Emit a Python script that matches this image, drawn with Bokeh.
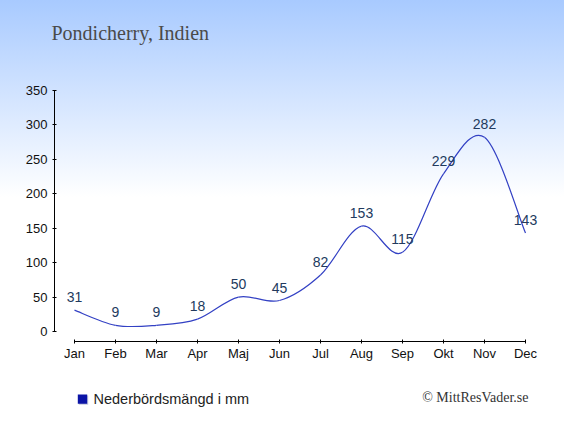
import numpy as np
from bokeh.plotting import figure
from bokeh.models import Range1d, FixedTicker, Label, BoxAnnotation
from bokeh.core.properties import value
from bokeh.embed import file_html
from bokeh.resources import INLINE

months = ["Jan", "Feb", "Mar", "Apr", "Maj", "Jun", "Jul", "Aug", "Sep", "Okt", "Nov", "Dec"]
precip = [31, 9, 9, 18, 50, 45, 82, 153, 115, 229, 282, 143]
y_ticks = [0, 50, 100, 150, 200, 250, 300, 350]
title_text = "Pondicherry, Indien"
legend_text = "Nederbördsmängd i mm"
credit_text = "© MittResVader.se"

W, H = 564, 419
# pixel geometry of the plot area (reference pixels)
PX_MONTH = 41.0
X_JAN = 74.0
Y_ZERO = 331.0
PX_UNIT = 241.0 / 350.0

x = np.arange(1, len(months) + 1, dtype=float)
y = np.array(precip, dtype=float)

x_start = 1 - X_JAN / PX_MONTH
x_end = 1 + (W - X_JAN) / PX_MONTH
y_end = Y_ZERO / PX_UNIT
y_start = -(H - Y_ZERO) / PX_UNIT

p = figure(width=W, height=H, output_backend="svg", toolbar_location=None,
           x_range=Range1d(x_start, x_end), y_range=Range1d(y_start, y_end),
           min_border=0)
p.background_fill_alpha = 0
p.border_fill_alpha = 0
p.outline_line_color = None
p.grid.visible = False
p.styles = {"background-image": "linear-gradient(to bottom, #a8caff 0%, #ffffff 47%)"}

# smooth curve (Catmull-Rom as cubic Bezier segments)
xp = np.concatenate([[x[0]], x, [x[-1]]])
yp = np.concatenate([[y[0]], y, [y[-1]]])
n = len(x)
x0 = x[:-1]; y0 = y[:-1]; x1 = x[1:]; y1 = y[1:]
cx0 = x0 + (xp[2:n + 1] - xp[0:n - 1]) / 6.0
cy0 = y0 + (yp[2:n + 1] - yp[0:n - 1]) / 6.0
cx1 = x1 - (xp[3:n + 2] - xp[1:n]) / 6.0
cy1 = y1 - (yp[3:n + 2] - yp[1:n]) / 6.0
p.bezier(x0=x0, y0=y0, x1=x1, y1=y1, cx0=cx0, cy0=cy0, cx1=cx1, cy1=cy1,
         line_color="#3341c4", line_width=1.2)

p.text(x=x, y=y, text=[str(v) for v in precip], text_align="center", text_baseline="middle",
       y_offset=-13, text_font=value("Liberation Sans"), text_font_size=value("14px"),
       text_color="#223a5e")

# axes pinned inside a full-canvas frame
p.xaxis.fixed_location = -10 / PX_UNIT
p.yaxis.fixed_location = 1 - 20 / PX_MONTH
p.xaxis.ticker = FixedTicker(ticks=list(x))
p.xaxis.major_label_overrides = {float(i + 1): m for i, m in enumerate(months)}
p.xaxis.bounds = (1, 12)
p.yaxis.ticker = FixedTicker(ticks=y_ticks)
p.yaxis.bounds = (0, 350)
for ax in (p.xaxis, p.yaxis):
    ax.major_tick_in = 2
    ax.major_tick_out = 2
    ax.minor_tick_line_color = None
    ax.axis_line_color = "#000000"
    ax.major_tick_line_color = "#000000"
    ax.major_label_text_font = "Liberation Sans"
    ax.major_label_text_font_size = "13px"
    ax.major_label_text_color = "#111111"
p.xaxis.major_label_standoff = 2
p.yaxis.major_label_standoff = 5

def lbl(px, py, text, font, size, color, align):
    return Label(x=px, y=H - py, x_units="screen", y_units="screen", text=text,
                 text_font=font, text_font_size=size, text_color=color,
                 text_baseline="middle", text_align=align)

p.add_layout(lbl(51, 32, title_text, "Liberation Serif", "20px", "#4a4a4a", "left"))
p.add_layout(lbl(93, 398, legend_text, "Liberation Sans", "14.5px", "#222222", "left"))
p.add_layout(lbl(528, 397, credit_text, "Liberation Serif", "14px", "#333333", "right"))
p.add_layout(BoxAnnotation(left=78.3, right=87.7, top=H - 395, bottom=H - 404.3,
                           left_units="screen", right_units="screen", top_units="screen", bottom_units="screen",
                           fill_color="#c4c8dc", fill_alpha=1, line_color=None))
p.add_layout(BoxAnnotation(left=77.3, right=86.7, top=H - 394, bottom=H - 403.3,
                           left_units="screen", right_units="screen", top_units="screen", bottom_units="screen",
                           fill_color="#0b14a6", fill_alpha=1, line_color=None))

open("out.html", "w").write(file_html(p, INLINE))
